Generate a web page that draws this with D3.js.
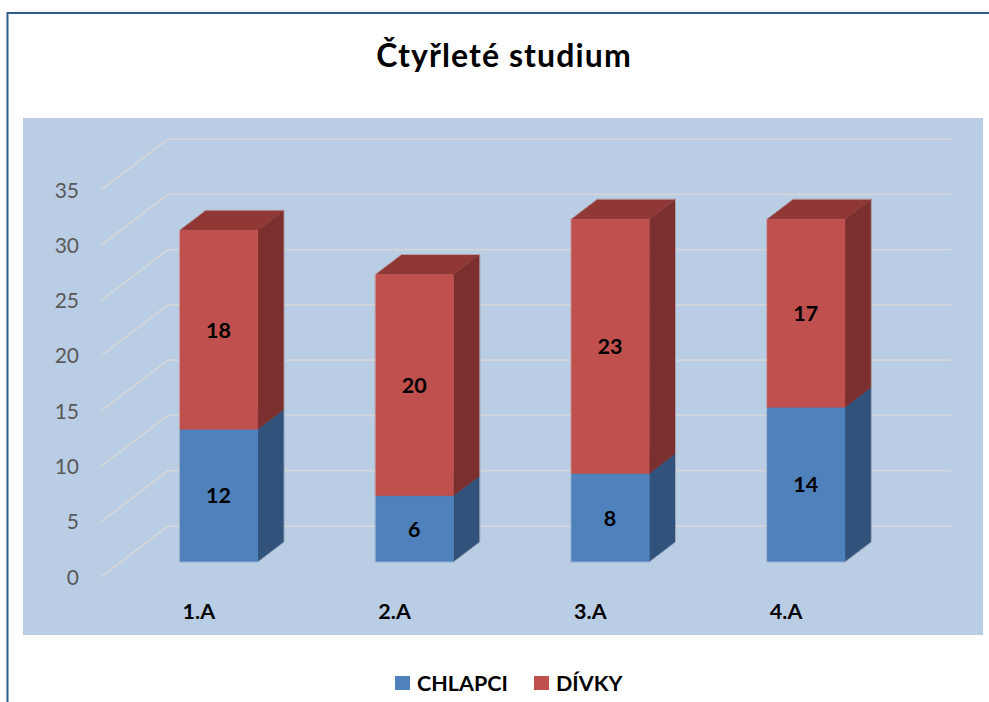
<!DOCTYPE html>
<html>
<head>
<meta charset="utf-8">
<script src="https://cdn.jsdelivr.net/npm/d3@7"></script>
<style>
  html, body { margin: 0; padding: 0; background: #fff; }
  svg { display: block; }
  text { font-family: Lato, "Open Sans", sans-serif; }
</style>
</head>
<body>
<svg id="chart" width="989" height="702"></svg>
<script>
const title = "Čtyřleté studium";
const categories = ["1.A", "2.A", "3.A", "4.A"];
const seriesNames = ["CHLAPCI", "DÍVKY"];
const chlapci = [12, 6, 8, 14];
const divky = [18, 20, 23, 17];
const yTicks = [0, 5, 10, 15, 20, 25, 30, 35];

const colors = {
  CHLAPCI: { front: "#4f81bd", side: "#31527b", top: "#3e6797" },
  "DÍVKY": { front: "#c0504d", side: "#7b302f", top: "#8f3836" }
};

const svg = d3.select("#chart");

// outer frame
svg.append("path")
  .attr("d", "M7.5,702 V13 H989")
  .attr("fill", "none").attr("stroke", "#2f5b8f").attr("stroke-width", 2);

// title
svg.append("text").attr("x", 504).attr("y", 67).attr("text-anchor", "middle")
  .attr("font-size", 32).attr("font-weight", 700).attr("letter-spacing", 1.1)
  .attr("fill", "#000").text(title);

// plot area background
svg.append("rect").attr("x", 23).attr("y", 118).attr("width", 960).attr("height", 517)
  .attr("fill", "#b9cde5");

// projection
const depthDX = 67, depthDY = -51;
const x = d3.scaleBand().domain(categories).range([101, 884]).padding(0);
const y = d3.scaleLinear().domain([0, 35]).range([577, 190]);
const P = (px, v, z) => [px + z * depthDX, y(v) + z * depthDY];

// gridlines (front diagonal + back horizontal)
const grid = svg.append("g");
yTicks.forEach(t => {
  const a = P(x.range()[0], t, 0), b = P(x.range()[0], t, 1), c = P(x.range()[1], t, 1);
  grid.append("path").attr("d", `M${a}L${b}L${c}`)
    .attr("fill", "none").attr("stroke", "#d3d6da").attr("stroke-width", 1.75);
});

// y tick labels
svg.append("g").selectAll("text").data(yTicks).join("text")
  .attr("x", 79).attr("y", d => y(d)).attr("dy", "0.36em").attr("text-anchor", "end")
  .attr("font-size", 21).attr("fill", "#595959").text(d => d);

// bars
const z0 = 15 / 51, z1 = 35 / 51;
const barW = x.bandwidth() * 0.4;
const series = [
  { name: "CHLAPCI", values: chlapci },
  { name: "DÍVKY", values: divky }
];
const poly = pts => "M" + pts.map(p => p.join(",")).join("L") + "Z";
const bars = svg.append("g");
categories.forEach((cat, i) => {
  let base = 0;
  const cx = x(cat) + x.bandwidth() / 2;
  const xl = cx - barW / 2, xr = cx + barW / 2;
  series.forEach(s => {
    const v0 = base, v1 = base + s.values[i];
    base = v1;
    const c = colors[s.name];
    bars.append("path").attr("d", poly([P(xr, v0, z0), P(xr, v0, z1), P(xr, v1, z1), P(xr, v1, z0)]))
      .attr("fill", c.side).attr("stroke", c.side).attr("stroke-width", 0.5);
    bars.append("path").attr("d", poly([P(xl, v1, z0), P(xl, v1, z1), P(xr, v1, z1), P(xr, v1, z0)]))
      .attr("fill", c.top).attr("stroke", c.top).attr("stroke-width", 0.5);
    bars.append("path").attr("d", poly([P(xl, v0, z0), P(xr, v0, z0), P(xr, v1, z0), P(xl, v1, z0)]))
      .attr("fill", c.front).attr("stroke", c.front).attr("stroke-width", 0.5);
  });
  // faint light outline around whole column
  const total = base;
  bars.append("path")
    .attr("d", poly([P(xl, 0, z0), P(xr, 0, z0), P(xr, 0, z1), P(xr, total, z1), P(xl, total, z1), P(xl, total, z0)]))
    .attr("fill", "none").attr("stroke", "#c8ccd4").attr("stroke-opacity", 0.6).attr("stroke-width", 1);
});

// data labels
const labels = svg.append("g");
categories.forEach((cat, i) => {
  let base = 0;
  const cx = x(cat) + x.bandwidth() / 2;
  series.forEach(s => {
    const v0 = base, v1 = base + s.values[i];
    base = v1;
    const p = P(cx, (v0 + v1) / 2, z0);
    labels.append("text").attr("x", p[0]).attr("y", p[1]).attr("dy", "0.36em")
      .attr("text-anchor", "middle").attr("font-size", 21.5).attr("font-weight", 700)
      .attr("fill", "#000").text(s.values[i]);
  });
});

// category labels
svg.append("g").selectAll("text").data(categories).join("text")
  .attr("x", d => x(d) + x.bandwidth() / 2).attr("y", 619).attr("text-anchor", "middle")
  .attr("font-size", 21.5).attr("font-weight", 700).attr("fill", "#000").text(d => d);

// legend
const legendItems = [
  { name: "CHLAPCI", sx: 395, tx: 417 },
  { name: "DÍVKY", sx: 534, tx: 556 }
];
const lg = svg.append("g");
legendItems.forEach(it => {
  lg.append("rect").attr("x", it.sx).attr("y", 676).attr("width", 15).attr("height", 14)
    .attr("fill", colors[it.name].front);
  lg.append("text").attr("x", it.tx).attr("y", 691).attr("font-size", 21.5)
    .attr("font-weight", 700).attr("fill", "#000").text(it.name);
});
</script>
</body>
</html>
